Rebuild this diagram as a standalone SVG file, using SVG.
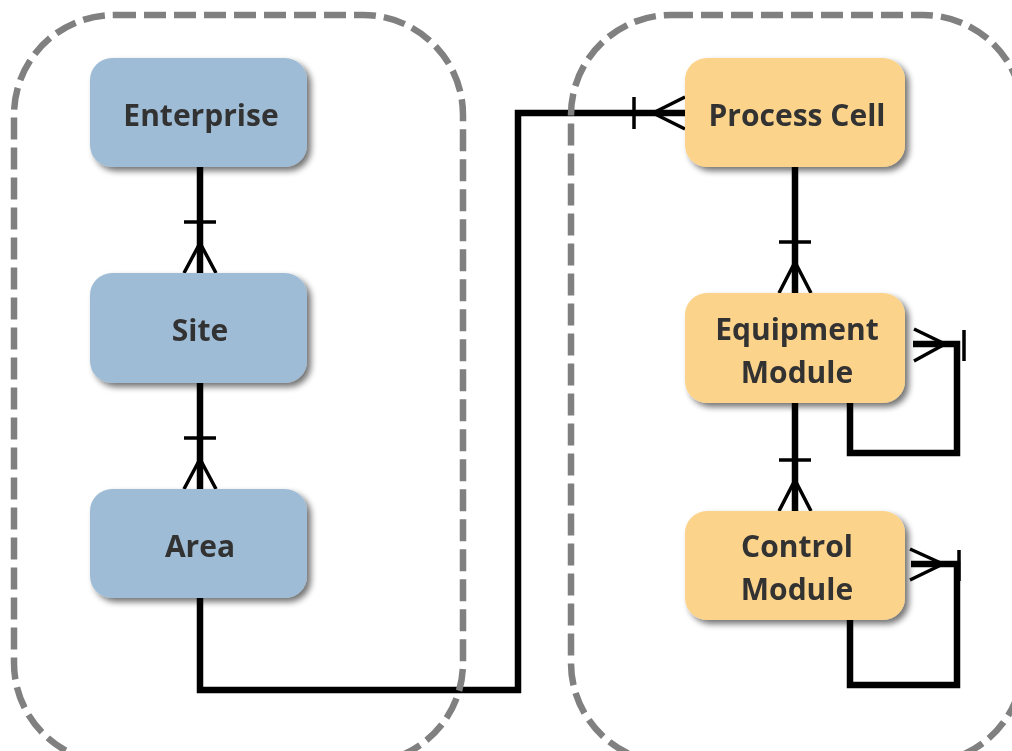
<svg xmlns="http://www.w3.org/2000/svg" width="1012" height="751" viewBox="0 0 1012 751">
  <defs>
    <filter id="shadow" x="-10%" y="-10%" width="130%" height="140%">
      <feGaussianBlur in="SourceAlpha" stdDeviation="3"/>
      <feOffset dx="4" dy="4" result="b"/>
      <feComponentTransfer><feFuncA type="linear" slope="0.55"/></feComponentTransfer>
      <feMerge><feMergeNode/><feMergeNode in="SourceGraphic"/></feMerge>
    </filter>
  </defs>
  <style>
    .group { fill: none; stroke: #808080; stroke-width: 6.5; stroke-dasharray: 22 8; }
    .blue { fill: #9fbcd6; }
    .amber { fill: #fcd38a; }
    .label { font-family: "Open Sans", "Noto Sans", sans-serif; font-weight: bold; font-size: 30px; fill: #333333; text-anchor: middle; }
    .link { fill: none; stroke: #000; stroke-width: 6.5; }
    .mark { fill: none; stroke: #000; stroke-width: 3.5; }
  </style>
  <rect width="1012" height="751" fill="#ffffff"/>

  <!-- connectors -->
  <g id="connectors">
    <!-- Enterprise to Site -->
    <path class="link" d="M200 167 V273"/>
    <path class="mark" d="M184 222 H216 M200 243 L184 273 M200 243 L216 273"/>
    <!-- Site to Area -->
    <path class="link" d="M200 383 V489"/>
    <path class="mark" d="M184 438 H216 M200 459 L184 489 M200 459 L216 489"/>
    <!-- Area to Process Cell -->
    <path class="link" d="M200 598 V690 H518 V113 H685"/>
    <path class="mark" d="M634 97 V129 M653 113 L685 97 M653 113 L685 129"/>
    <!-- Process Cell to Equipment Module -->
    <path class="link" d="M795 167 V293"/>
    <path class="mark" d="M779 242 H811 M795 262 L779 293 M795 262 L811 293"/>
    <!-- Equipment Module to Control Module -->
    <path class="link" d="M795 403 V511"/>
    <path class="mark" d="M779 460 H811 M795 480 L779 511 M795 480 L811 511"/>
    <!-- Equipment Module self relation -->
    <path class="link" d="M850 403 V453 H957 V344 H913"/>
    <path class="mark" d="M964 330 V361 M945 344 L914 329 M945 344 L914 361"/>
    <!-- Control Module self relation -->
    <path class="link" d="M850 620 V685 H957 V564 H911"/>
    <path class="mark" d="M959 550 V581 M943 564 L910 549 M943 564 L910 580"/>
  </g>

  <!-- dashed containers -->
  <rect class="group" x="14" y="15" width="449" height="748" rx="100"/>
  <rect class="group" x="571" y="15" width="452" height="748" rx="100"/>

  <g id="enterprise" filter="url(#shadow)">
    <rect class="blue" x="90" y="58" width="217" height="109" rx="22"/>
    <text class="label" x="201" y="126">Enterprise</text>
  </g>
  <g id="site" filter="url(#shadow)">
    <rect class="blue" x="90" y="273" width="217" height="110" rx="22"/>
    <text class="label" x="200" y="341">Site</text>
  </g>
  <g id="area" filter="url(#shadow)">
    <rect class="blue" x="90" y="489" width="217" height="109" rx="22"/>
    <text class="label" x="200" y="557">Area</text>
  </g>
  <g id="process-cell" filter="url(#shadow)">
    <rect class="amber" x="685" y="58" width="220" height="109" rx="22"/>
    <text class="label" x="797" y="126">Process Cell</text>
  </g>
  <g id="equipment-module" filter="url(#shadow)">
    <rect class="amber" x="685" y="293" width="220" height="110" rx="22"/>
    <text class="label" x="797" y="340">Equipment</text>
    <text class="label" x="797" y="383">Module</text>
  </g>
  <g id="control-module" filter="url(#shadow)">
    <rect class="amber" x="685" y="511" width="220" height="109" rx="22"/>
    <text class="label" x="797" y="557">Control</text>
    <text class="label" x="797" y="600">Module</text>
  </g>
</svg>
